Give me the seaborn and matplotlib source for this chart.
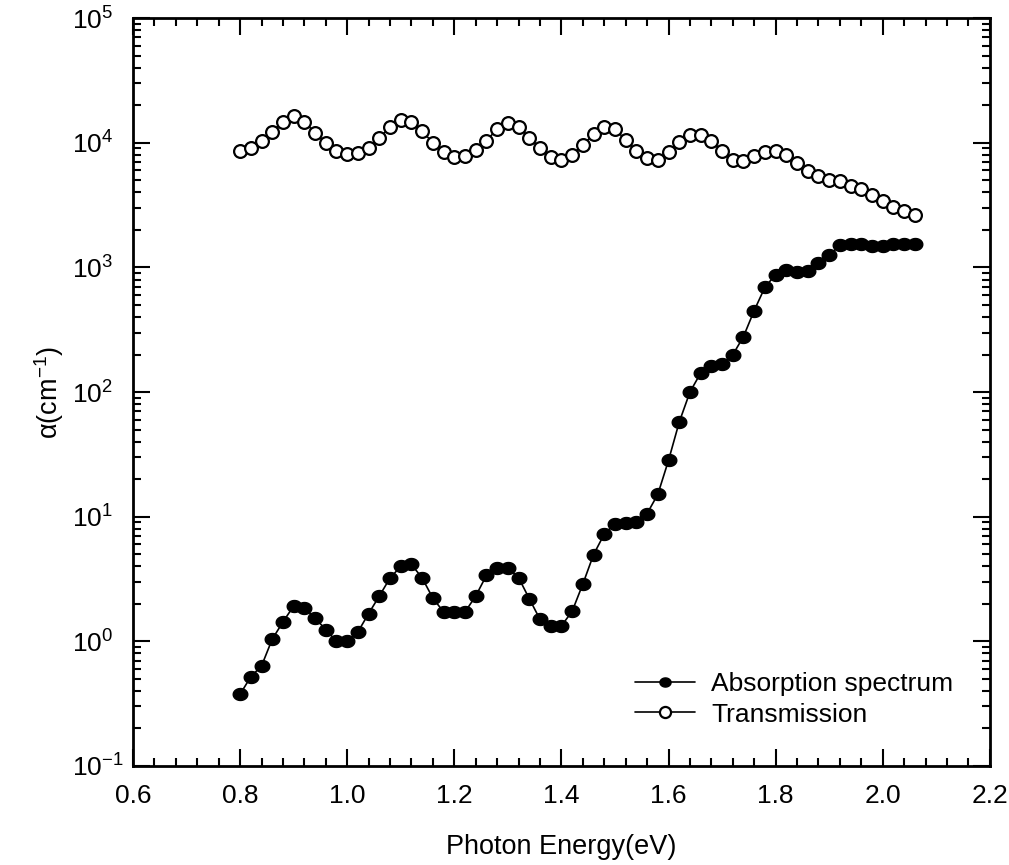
import numpy as np
import pandas as pd
import matplotlib
matplotlib.use("Agg")
import matplotlib.pyplot as plt
import seaborn as sns
from matplotlib.path import Path
from matplotlib.ticker import FixedLocator, LogLocator, MultipleLocator, NullFormatter

energy = [round(0.80 + 0.02 * i, 2) for i in range(64)]

absorption = [0.376, 0.52, 0.634, 1.04, 1.43, 1.92, 1.85, 1.54, 1.24, 1.0,
              1.0, 1.19, 1.67, 2.31, 3.22, 3.99, 4.14, 3.22, 2.22, 1.72,
              1.72, 1.72, 2.31, 3.38, 3.9, 3.9, 3.24, 2.2, 1.5, 1.33,
              1.33, 1.74, 2.88, 4.96, 7.25, 8.79, 8.95, 9.07, 10.6, 15.1,
              28.3, 57.4, 100, 142, 161, 169, 199, 279, 451, 693,
              877, 955, 911, 944, 1088, 1260, 1500, 1550, 1550, 1480,
              1480, 1550, 1540, 1540]

transmission = [8650, 9100, 10300, 12300, 14800, 16300, 14800, 12000, 10000, 8550,
                8150, 8300, 9100, 10900, 13400, 15200, 14800, 12400, 10000, 8400,
                7750, 7800, 8800, 10400, 12900, 14300, 13500, 11000, 9100, 7750,
                7330, 7990, 9600, 11700, 13300, 12800, 10600, 8550, 7570, 7330,
                8500, 10200, 11600, 11600, 10400, 8550, 7330, 7200, 7800, 8500,
                8550, 8040, 6900, 5900, 5380, 5070, 4900, 4540, 4220, 3780,
                3390, 3080, 2860, 2640]

y_ticks = [1e-1, 1e0, 1e1, 1e2, 1e3, 1e4, 1e5]
labels = ["Absorption spectrum", "Transmission"]
x_label = "Photon Energy(eV)"
y_label = r"$\alpha$(cm$^{-1}$)"

sns.set_theme(style="ticks")
plt.rcParams["font.family"] = ["Liberation Sans", "DejaVu Sans"]
plt.rcParams["mathtext.fontset"] = "custom"
plt.rcParams["mathtext.rm"] = "Liberation Sans"
plt.rcParams["mathtext.it"] = "Liberation Sans:italic"
plt.rcParams["mathtext.default"] = "regular"
for k in ["text.color", "axes.labelcolor", "xtick.color", "ytick.color", "axes.edgecolor"]:
    plt.rcParams[k] = "black"

df_abs = pd.DataFrame({"E": energy, "alpha": absorption})
df_tr = pd.DataFrame({"E": energy, "alpha": transmission})

# slightly flattened circle marker
t = np.linspace(0, 2 * np.pi, 60)
ellipse = Path(np.column_stack([np.cos(t), 0.82 * np.sin(t)]), closed=True)

fig = plt.figure(figsize=(10.09, 8.65), dpi=100)
ax = fig.add_axes([0.1318, 0.1145, 0.981 - 0.1318, 0.979 - 0.1145])

sns.lineplot(data=df_abs, x="E", y="alpha", ax=ax, color="black", lw=1.2,
             marker=ellipse, markersize=10.5, markerfacecolor="black",
             markeredgecolor="black", markeredgewidth=1.0, label=labels[0],
             estimator=None)
sns.lineplot(data=df_tr, x="E", y="alpha", ax=ax, color="black", lw=1.2,
             marker="o", markersize=9.2, markerfacecolor="white",
             markeredgecolor="black", markeredgewidth=1.6, label=labels[1],
             estimator=None)

ax.set_yscale("log")
ax.set_xlim(0.6, 2.2)
ax.set_ylim(0.1, 1e5)
ax.xaxis.set_major_locator(MultipleLocator(0.2))
ax.xaxis.set_minor_locator(MultipleLocator(0.04))
ax.xaxis.set_major_formatter(matplotlib.ticker.FormatStrFormatter("%.1f"))
ax.yaxis.set_major_locator(FixedLocator(y_ticks))
ax.yaxis.set_minor_locator(LogLocator(base=10, subs=np.arange(2, 10), numticks=20))
ax.yaxis.set_minor_formatter(NullFormatter())

ax.tick_params(axis="both", which="both", direction="in", top=True, right=True,
               colors="black", width=1.5)
ax.tick_params(axis="both", which="major", length=12, labelsize=19)
ax.tick_params(axis="both", which="minor", length=6)
ax.tick_params(axis="x", which="major", pad=13)
ax.tick_params(axis="y", which="major", pad=44)
for s in ax.spines.values():
    s.set_linewidth(2)
    s.set_color("black")

ax.set_xlabel(x_label, fontsize=19.5, labelpad=19)
ax.set_ylabel(y_label, fontsize=19.5, labelpad=4)

leg = ax.legend(loc="lower right", bbox_to_anchor=(0.985, 0.021), frameon=False,
                fontsize=19, handlelength=2.3, handletextpad=0.6, labelspacing=0.25)
for h in leg.legend_handles:
    h.set_markersize(8)

fig.canvas.draw()
for lbl in ax.get_yticklabels():
    lbl.set_horizontalalignment("left")

fig.savefig("out.png", dpi=100)
